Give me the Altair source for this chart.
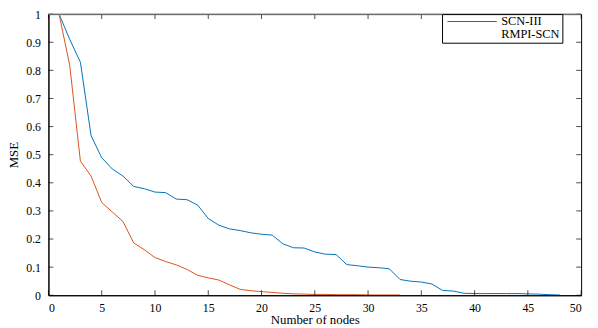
import altair as alt
import pandas as pd

# ---- data ----
scn_nodes = list(range(1, 49))
scn_mse = [1.0, 0.91, 0.829, 0.568, 0.489, 0.449, 0.424, 0.387, 0.379, 0.367,
           0.365, 0.342, 0.340, 0.321, 0.273, 0.249, 0.236, 0.230, 0.222, 0.217,
           0.214, 0.183, 0.169, 0.168, 0.154, 0.146, 0.145, 0.109, 0.105, 0.100,
           0.098, 0.094, 0.056, 0.050, 0.047, 0.040, 0.017, 0.015, 0.007, 0.006,
           0.006, 0.006, 0.006, 0.006, 0.005, 0.004, 0.002, 0.001]
rmpi_nodes = list(range(1, 34))
rmpi_mse = [1.0, 0.817, 0.477, 0.424, 0.330, 0.296, 0.262, 0.186, 0.162, 0.134,
            0.120, 0.108, 0.092, 0.071, 0.062, 0.054, 0.037, 0.021, 0.016, 0.013,
            0.010, 0.007, 0.005, 0.004, 0.003, 0.003, 0.002, 0.002, 0.002, 0.001,
            0.001, 0.001, 0.001]
series_names = ["SCN-III", "RMPI-SCN"]
series_colors = ["#0072BD", "#D95319"]
x_ticks = [0, 5, 10, 15, 20, 25, 30, 35, 40, 45, 50]
y_ticks = [0, 0.1, 0.2, 0.3, 0.4, 0.5, 0.6, 0.7, 0.8, 0.9, 1]

FONT = "Liberation Serif"

df = pd.concat([
    pd.DataFrame({"nodes": scn_nodes, "mse": scn_mse, "series": series_names[0]}),
    pd.DataFrame({"nodes": rmpi_nodes, "mse": rmpi_mse, "series": series_names[1]}),
])

xscale = alt.Scale(domain=[0, 50], nice=False, zero=False)
yscale = alt.Scale(domain=[0, 1], nice=False)
x_axis = alt.Axis(values=x_ticks, title="Number of nodes", ticks=False,
                  labelPadding=7, titlePadding=1, grid=False, labelOverlap=False)
y_axis = alt.Axis(values=y_ticks, title="MSE", ticks=False, format="~g",
                  labelPadding=8, titlePadding=5, grid=False, labelOverlap=False)

lines = alt.Chart(df).mark_line(strokeWidth=1, clip=True).encode(
    x=alt.X("nodes:Q", scale=xscale, axis=x_axis),
    y=alt.Y("mse:Q", scale=yscale, axis=y_axis),
    color=alt.Color("series:N",
                    scale=alt.Scale(domain=series_names, range=series_colors),
                    legend=alt.Legend(
                        title=None, orient="none", legendX=399, legendY=0,
                        symbolType="stroke", symbolSize=2500, symbolStrokeWidth=1,
                        symbolOffset=3,
                        symbolOpacity=alt.ExprRef(expr="datum.label === 'SCN-III' ? 1 : 0"),
                        labelFont=FONT, labelFontSize=12.5, labelColor="black",
                        labelOffset=4, clipHeight=11, rowPadding=0,
                        strokeColor="black", fillColor="white", padding=2,
                        cornerRadius=0)),
    order="nodes:Q",
)

xt = pd.DataFrame({"x": x_ticks})
yt = pd.DataFrame({"y": y_ticks})

bottom_ticks = alt.Chart(xt).mark_tick(orient="vertical", size=5, thickness=1,
                                       color="black", yOffset=-2.5).encode(
    x=alt.X("x:Q", scale=xscale, axis=x_axis), y=alt.YDatum(0, axis=y_axis))
top_ticks = alt.Chart(xt).mark_tick(orient="vertical", size=5, thickness=1,
                                    color="black", yOffset=2.5).encode(
    x=alt.X("x:Q", scale=xscale, axis=x_axis), y=alt.YDatum(1, axis=y_axis))
left_ticks = alt.Chart(yt).mark_tick(orient="horizontal", size=5, thickness=1,
                                     color="black", xOffset=2.5).encode(
    y=alt.Y("y:Q", scale=yscale, axis=y_axis), x=alt.XDatum(0, axis=x_axis))
right_ticks = alt.Chart(yt).mark_tick(orient="horizontal", size=5, thickness=1,
                                      color="black", xOffset=-2.5).encode(
    y=alt.Y("y:Q", scale=yscale, axis=y_axis), x=alt.XDatum(50, axis=x_axis))
top_line = alt.Chart(pd.DataFrame({"y": [1]})).mark_rule(color="#888888", strokeWidth=1.5).encode(
    y=alt.Y("y:Q", scale=yscale, axis=y_axis))

chart = alt.layer(lines, bottom_ticks, top_ticks, left_ticks, right_ticks, top_line).properties(
    width=540, height=285,
    autosize=alt.AutoSizeParams(type="none"),
    padding={"left": 41, "top": 4, "right": 9, "bottom": 31},
).configure_view(stroke="black", strokeWidth=1).configure_axis(
    labelFont=FONT, labelFontSize=12, labelColor="black",
    titleFont=FONT, titleFontSize=13, titleFontWeight="normal", titleColor="black",
    domainColor="black", domainWidth=1,
)

chart.save("out.html", embed_options={"renderer": "svg", "actions": False})
